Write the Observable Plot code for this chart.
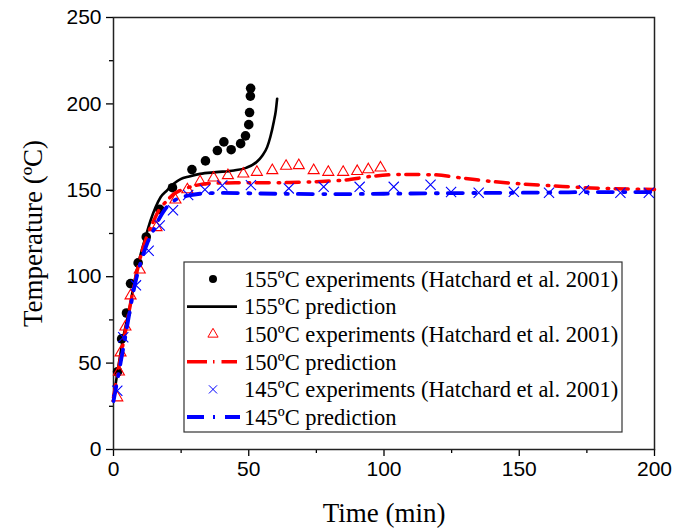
<!DOCTYPE html>
<html><head><meta charset="utf-8">
<script src="https://cdn.jsdelivr.net/npm/d3@7"></script>
<script src="https://cdn.jsdelivr.net/npm/@observablehq/plot@0.6"></script>
<style>body{margin:0;background:#fff}#chart{width:673px;height:530px}</style>
</head><body><div id="chart"></div>
<script>
// 155 ºC experiments
const t155 = [1.5, 3, 4.8, 6.3, 9.1, 12.1, 17.1, 21.8, 29, 34, 38.4, 40.8, 43.5, 47, 48.8, 50, 50.3, 50.6, 50.7];
const T155 = [45, 64, 79, 96, 108, 123, 139, 151.5, 162, 167, 173, 178, 173.5, 177, 181.5, 188, 195, 204.5, 209];
// 155 ºC prediction
const tp155 = [0, 2, 4, 5.7, 7.5, 9.4, 11.5, 13.7, 15.5, 17.4, 19.8, 22, 24.8, 28, 32, 38, 44.5, 49, 53, 55, 56.8, 58, 59.3, 60, 60.5];
const Tp155 = [30, 50, 68, 80, 95, 109, 121, 132.5, 140, 146, 150, 153.5, 156.5, 158, 159.5, 160.5, 161.5, 163, 166.5, 170, 175, 181, 190, 196, 203];
// 150 ºC experiments
const t150 = [1.4, 2, 2.6, 4.4, 6.3, 9.7, 15.9, 22.9, 27.3, 32, 37, 42.3, 48, 53, 58.7, 63.8, 68.5, 74, 79.4, 84.9, 90.1, 94.2, 98.7];
const T150 = [30, 45, 56, 71, 89, 104, 128.5, 144.5, 150.4, 155, 157.2, 158.6, 159.5, 160.5, 161.5, 164, 164.4, 161.5, 160.5, 160.5, 161, 162, 163];
// 150 ºC prediction
const tp150 = [0, 2, 4, 6, 8, 10.6, 12.5, 14.9, 17, 19.8, 22, 24.8, 28, 31, 36, 45, 55, 65, 75, 86, 95, 107, 118, 129.5, 140.6, 151.7, 162.5, 173.5, 184.6, 200];
const Tp150 = [30, 48, 65, 82, 98, 115, 124, 132.5, 139, 144, 147.5, 150, 151.8, 153, 154, 154.3, 154.3, 154.5, 155, 156, 158, 159.2, 159, 157, 155, 153.6, 152.6, 151.6, 151, 150.5];
// 145 ºC experiments
const t145 = [1.4, 3.6, 8.3, 13, 17.1, 22, 27.6, 33.8, 40.2, 50.8, 64.8, 77.7, 91, 103.6, 117.2, 124.8, 135, 148, 161, 173.9, 187.4, 197.9];
const T145 = [34, 65, 95, 115, 129.6, 138.5, 147.3, 150.4, 152.8, 153, 151.1, 152, 152, 152, 153.2, 149, 148.6, 149.1, 148.6, 150.1, 148.6, 148.6];
// 145 ºC prediction
const tp145 = [0, 2, 4, 6, 8, 10, 12.4, 14.5, 16.7, 19.8, 23.5, 27.8, 32, 40, 60, 80, 100, 120, 140, 160, 180, 200];
const Tp145 = [28, 45, 62, 80, 96, 108, 119, 126, 133, 140.5, 145, 147, 148, 148.5, 148, 147.8, 148, 148.3, 148.5, 148.7, 149, 149];

const xMajor = [0, 50, 100, 150, 200];
const xMinor = [25, 75, 125, 175];
const yMajor = [0, 50, 100, 150, 200, 250];
const yMinor = [25, 75, 125, 175, 225];

const legendLabels = [
  "155ºC experiments (Hatchard et al. 2001)",
  "155ºC prediction",
  "150ºC experiments (Hatchard et al. 2001)",
  "150ºC prediction",
  "145ºC experiments (Hatchard et al. 2001)",
  "145ºC prediction"
];
const xTitle = "Time (min)";
const yTitle = "Temperature (ºC)";

const pts = (ts, vs) => ts.map((t, i) => ({t, v: vs[i]}));
const serif = "'Liberation Serif', 'Times New Roman', serif";
const sans = "'Liberation Sans', Arial, sans-serif";
const RED = "#ff0000", BLUE = "#0000ff";
const redDash = "13,9,1.5,6.5";
const blueDash = "15,10.5,2,10";

const svg = Plot.plot({
  width: 673, height: 530,
  marginLeft: 113, marginRight: 19, marginTop: 17, marginBottom: 81,
  style: {fontFamily: serif, fontSize: "21px", color: "#000", background: "#fff"},
  x: {domain: [0, 200]},
  y: {domain: [0, 250]},
  marks: [
    Plot.axisX({ticks: xMajor, tickSize: 7, tickPadding: 5, label: null, strokeWidth: 1.3, fontSize: 21, fontFamily: sans}),
    Plot.axisX({ticks: xMinor, tickSize: 4, tickFormat: () => "", label: null, strokeWidth: 1.3}),
    Plot.axisY({ticks: yMajor, tickSize: 7, tickPadding: 5, label: null, strokeWidth: 1.3, fontSize: 21, fontFamily: sans}),
    Plot.axisY({ticks: yMinor, tickSize: 4, tickFormat: () => "", label: null, strokeWidth: 1.3}),
    Plot.frame({stroke: "#222", strokeWidth: 1.5}),
    Plot.dot(pts(t155, T155), {x: "t", y: "v", r: 4.8, fill: "#000", stroke: "none"}),
    Plot.line(pts(tp155, Tp155), {x: "t", y: "v", stroke: "#000", strokeWidth: 2.6, curve: "monotone-x"}),
    Plot.dot(pts(t150, T150), {x: "t", y: "v", symbol: "triangle", r: 4.1, fill: "none", stroke: RED, strokeWidth: 1.1}),
    Plot.line(pts(tp150, Tp150), {x: "t", y: "v", stroke: RED, strokeWidth: 3.5, strokeDasharray: redDash, curve: "monotone-x"}),
    Plot.dot(pts(t145, T145), {x: "t", y: "v", symbol: "times", r: 4.7, stroke: BLUE, strokeWidth: 1.1}),
    Plot.line(pts(tp145, Tp145), {x: "t", y: "v", stroke: BLUE, strokeWidth: 3.8, strokeDasharray: blueDash, curve: "monotone-x"}),
    Plot.text([xTitle], {frameAnchor: "bottom", dy: 64, textAnchor: "middle", lineAnchor: "middle", fontFamily: serif, fontSize: 27, fill: "#000"}),
    Plot.text([yTitle], {frameAnchor: "left", dx: -80, textAnchor: "middle", lineAnchor: "middle", rotate: -90, fontFamily: serif, fontSize: 27, fill: "#000"})
  ]
});
document.getElementById("chart").appendChild(svg);

// Legend (guide) inside the plot area
const lg = d3.select(svg).append("g").attr("class", "legend").style("font-family", serif).style("font-size", "22.5px");
const box = {x0: 184, y0: 262, x1: 622, y1: 432};
lg.append("rect").attr("x", box.x0).attr("y", box.y0).attr("width", box.x1 - box.x0).attr("height", box.y1 - box.y0)
  .attr("fill", "#fff").attr("stroke", "#333").attr("stroke-width", 1.2);
const rowY = i => 279 + i * 27.6;
const symX = 213, lineX0 = 187, lineX1 = 237, textX = 244;
legendLabels.forEach((lab, i) => {
  const y = rowY(i);
  const g = lg.append("g");
  if (i === 0) g.append("circle").attr("cx", symX).attr("cy", y).attr("r", 4).attr("fill", "#000");
  if (i === 2) g.append("path").attr("transform", `translate(${symX},${y})`).attr("d", d3.symbol(d3.symbolTriangle, 45)()).attr("fill", "none").attr("stroke", RED).attr("stroke-width", 1);
  if (i === 4) g.append("path").attr("transform", `translate(${symX},${y})`).attr("d", d3.symbol(d3.symbolTimes, 45)()).attr("fill", "none").attr("stroke", BLUE).attr("stroke-width", 1);
  if (i === 1) g.append("line").attr("x1", lineX0).attr("x2", lineX1).attr("y1", y).attr("y2", y).attr("stroke", "#000").attr("stroke-width", 2.6);
  if (i === 3) g.append("line").attr("x1", lineX0).attr("x2", lineX1).attr("y1", y).attr("y2", y).attr("stroke", RED).attr("stroke-width", 3.5).attr("stroke-dasharray", "20,6,1.5,7,20");
  if (i === 5) g.append("line").attr("x1", lineX0).attr("x2", lineX1 + 3).attr("y1", y).attr("y2", y).attr("stroke", BLUE).attr("stroke-width", 3.8).attr("stroke-dasharray", "17,9,2,10,20");
  g.append("text").attr("x", textX).attr("y", y).attr("dy", "0.35em")
    .style("text-anchor", "start").style("font-family", serif).style("font-size", "22.5px").style("fill", "#000").text(lab);
});
</script>
</body></html>
